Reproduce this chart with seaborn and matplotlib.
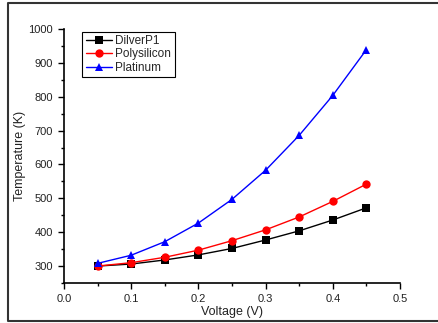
import matplotlib
matplotlib.use("Agg")
import matplotlib.pyplot as plt
import seaborn as sns
import pandas as pd
from matplotlib.lines import Line2D
from matplotlib.ticker import MultipleLocator, FormatStrFormatter

voltage = [0.05, 0.10, 0.15, 0.20, 0.25, 0.30, 0.35, 0.40, 0.45]
dilver_p1 = [300, 306, 318, 333, 352, 377, 404, 436, 472]
polysilicon = [300, 310, 326, 347, 375, 407, 445, 491, 542]
platinum = [308, 332, 372, 427, 497, 583, 686, 804, 939]

series_names = ["DilverP1", "Polysilicon", "Platinum"]
colors = ["black", "red", "blue"]
markers = ["s", "o", "^"]

df = pd.concat([
    pd.DataFrame({"Voltage": voltage, "Temperature": vals, "Material": name})
    for name, vals in zip(series_names, [dilver_p1, polysilicon, platinum])
])

sns.set_style("ticks")
plt.rcParams["font.family"] = ["Liberation Sans", "DejaVu Sans"]

fig = plt.figure(figsize=(4.38, 3.23), dpi=100)
ax = fig.add_axes([64 / 438, 40 / 323, 336 / 438, 254 / 323])

sns.lineplot(
    data=df, x="Voltage", y="Temperature", hue="Material", style="Material",
    palette=dict(zip(series_names, colors)),
    markers=dict(zip(series_names, markers)),
    dashes=False, markersize=6, linewidth=1, markeredgewidth=0,
    ax=ax,
)

ax.set_xlim(0, 0.5)
ax.set_ylim(250, 1000)
ax.xaxis.set_major_locator(MultipleLocator(0.1))
ax.xaxis.set_minor_locator(MultipleLocator(0.05))
ax.xaxis.set_major_formatter(FormatStrFormatter("%.1f"))
ax.set_yticks([300, 400, 500, 600, 700, 800, 900, 1000])
ax.yaxis.set_minor_locator(MultipleLocator(50))
ax.tick_params(which="major", direction="out", length=4, width=1, labelsize=8,
               color="black", labelcolor="#222222", pad=4)
ax.tick_params(which="minor", direction="out", length=2.5, width=1, color="black")
ax.set_xlabel("Voltage (V)", fontsize=9, color="#222222")
ax.set_ylabel("Temperature (K)", fontsize=9, color="#222222")
ax.xaxis.set_label_coords(0.5, -0.092)
ax.yaxis.set_label_coords(-0.114, 0.5)
for side in ["left", "bottom"]:
    ax.spines[side].set_linewidth(1.2)
    ax.spines[side].set_color("black")
sns.despine(ax=ax)

leg = ax.legend(
    loc="upper left", bbox_to_anchor=(0.054, 0.99), fontsize=8.5,
    frameon=True, fancybox=False, edgecolor="black", framealpha=1,
    borderpad=0.3, labelspacing=0.12, handlelength=2.2, handletextpad=0.3,
    borderaxespad=0,
)
leg.get_frame().set_linewidth(0.8)

# outer frame (left, top, bottom) like the exported graph page
frame_x = [1.0, 8 / 438, 8 / 438, 1.0]
frame_y = [1 - 3 / 323, 1 - 3 / 323, 2 / 323, 2 / 323]
fig.lines.append(Line2D(frame_x, frame_y, transform=fig.transFigure,
                        color="#333333", linewidth=1.5))

fig.savefig("out.png", dpi=100)
plt.close(fig)
